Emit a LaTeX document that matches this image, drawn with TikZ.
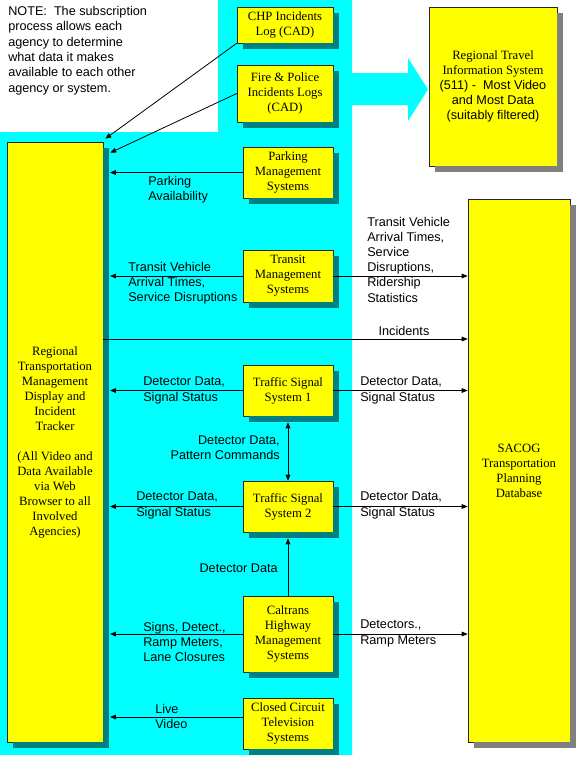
\documentclass[tikz,border=0pt]{standalone}
\usepackage{fontspec}
\setmainfont{Liberation Serif}
\setsansfont{Liberation Sans}
\usetikzlibrary{arrows.meta,calc}
\definecolor{PanelCyan}{RGB}{0,255,255}
\definecolor{BoxYellow}{RGB}{255,255,0}
\definecolor{ShadeTeal}{RGB}{0,128,128}
\definecolor{ShadeGray}{RGB}{128,128,128}
% shadow strips along the right and bottom edge of a box
\newcommand{\boxshade}[2]{%
    \fill[#2] ([shift={(0,6)}]#1.north east) rectangle ([shift={(6,6)}]#1.south east);
    \fill[#2] ([shift={(6,0)}]#1.south west) rectangle ([shift={(6,6)}]#1.south east);}
\begin{document}
\begin{tikzpicture}[
        x=0.75pt, y=-0.75pt,
        >={Triangle[length=4.5pt,width=3.5pt]},
        sysbox/.style={draw=black!85, fill=BoxYellow, align=center, inner sep=1pt,
                    font=\fontsize{9.5}{11.25}\selectfont},
        lab/.style={font=\sffamily\fontsize{9.5}{11.4}\selectfont, align=left, inner sep=0pt},
        flow/.style={->, line width=0.6pt},
        toleft/.style={flow, shorten >=5pt}
    ]
        \useasboundingbox (0,0) rectangle (576,768);
        % cyan panel with the big arrow towards the 511 system
        \fill[PanelCyan] (0,132) -- (218,132) -- (218,0) -- (352,0) -- (352,73) -- (408,73) -- (408,58)
            -- (428,89.5) -- (408,121) -- (408,105) -- (352,105) -- (352,755) -- (0,755) -- cycle;

        \node[sysbox, minimum width=72pt, minimum height=450pt] (rtm) at (55,442)
            {Regional\\Transportation\\Management\\Display and\\Incident\\Tracker\\[11.25pt](All Video and\\Data Available\\via Web\\Browser to all\\Involved\\Agencies)};
        \node[sysbox, minimum width=72pt, minimum height=27pt] (chp) at (285,25) {CHP Incidents\\Log (CAD)};
        \node[sysbox, minimum width=72pt, minimum height=42.75pt] (fire) at (285,93.5) {Fire \& Police\\Incidents Logs\\(CAD)};
        \node[sysbox, minimum width=67.5pt, minimum height=38.25pt] (park) at (288,172.5) {Parking\\Management\\Systems};
        \node[sysbox, minimum width=67.5pt, minimum height=39pt] (transit) at (288,276) {Transit\\Management\\Systems};
        \node[sysbox, minimum width=67.5pt, minimum height=38.25pt] (tss1) at (288,390.5) {Traffic Signal\\System 1};
        \node[sysbox, minimum width=67.5pt, minimum height=38.25pt] (tss2) at (288,506.5) {Traffic Signal\\System 2};
        \node[sysbox, minimum width=67.5pt, minimum height=57pt] (caltrans) at (288,634) {Caltrans\\Highway\\Management\\Systems};
        \node[sysbox, minimum width=67.5pt, minimum height=38.25pt] (cctv) at (288,723.5) {Closed Circuit\\Television\\Systems};
        \node[sysbox, minimum width=96pt, minimum height=119.25pt] (travel) at (493,86.5)
            {Regional Travel\\Information System\\\sffamily (511) -\ \ Most Video\\\sffamily and Most Data\\\sffamily (suitably filtered)};
        \node[sysbox, minimum width=76.5pt, minimum height=407.25pt] (sacog) at (519,470.5) {SACOG\\Transportation\\Planning\\Database};

        \boxshade{rtm}{ShadeTeal}
        \boxshade{chp}{ShadeTeal}
        \boxshade{fire}{ShadeTeal}
        \boxshade{park}{ShadeTeal}
        \boxshade{transit}{ShadeTeal}
        \boxshade{tss1}{ShadeTeal}
        \boxshade{tss2}{ShadeTeal}
        \boxshade{caltrans}{ShadeTeal}
        \boxshade{cctv}{ShadeTeal}
        \boxshade{travel}{ShadeGray}
        \boxshade{sacog}{ShadeGray}

        \coordinate (incid) at (200,339);
        \coordinate (livev) at (200,717);

        % flows into the regional display
        \draw[flow] (chp.south west) -- ($(rtm.north east)+(2,-3)$);
        \draw[flow] (fire.west) -- ($(rtm.north east)+(7,11)$);
        \draw[toleft] (park.west) -- (park.west -| rtm.east);
        \draw[toleft] (transit.west) -- (transit.west -| rtm.east);
        \draw[toleft] (tss1.west) -- (tss1.west -| rtm.east);
        \draw[toleft] (tss2.west) -- (tss2.west -| rtm.east);
        \draw[toleft] (caltrans.west) -- (caltrans.west -| rtm.east);
        \draw[toleft] (cctv.west |- livev) -- (rtm.east |- livev);
        % flows into SACOG
        \draw[flow] (transit.east) -- (transit.east -| sacog.west);
        \draw[flow] (rtm.east |- incid) -- (sacog.west |- incid);
        \draw[flow] (tss1.east) -- (tss1.east -| sacog.west);
        \draw[flow] (tss2.east) -- (tss2.east -| sacog.west);
        \draw[flow] (caltrans.east) -- (caltrans.east -| sacog.west);
        % between the field systems
        \draw[flow, <->, shorten <=4.5pt] (tss1.south) -- (tss2.north);
        \draw[flow, shorten >=4.5pt] (caltrans.north) -- (tss2.south);

        \node[lab, anchor=west, font=\sffamily\fontsize{9.5}{11.5}\selectfont] (note) at (8,50.5)
            {NOTE:\ \ The subscription\\process allows each\\agency to determine\\what data it makes\\available to each other\\agency or system.};
        \node[lab, anchor=west] (parklab) at (148,189.5) {Parking\\Availability};
        \node[lab, anchor=west] (tranlab) at (128,283) {Transit Vehicle\\Arrival Times,\\Service Disruptions};
        \node[lab, anchor=west] (tranout) at (367,259.5) {Transit Vehicle\\Arrival Times,\\Service\\Disruptions,\\Ridership\\Statistics};
        \node[lab] (incilab) at (404,331) {Incidents};
        \node[lab, anchor=west] (sig1lab) at (143,390.5) {Detector Data,\\Signal Status};
        \node[lab, anchor=west] (sig1out) at (360,390.5) {Detector Data,\\Signal Status};
        \node[lab, anchor=east, align=right] (patlab) at (280,447.5) {Detector Data,\\Pattern Commands};
        \node[lab, anchor=west] (sig2lab) at (136,505.5) {Detector Data,\\Signal Status};
        \node[lab, anchor=west] (sig2out) at (360,505.5) {Detector Data,\\Signal Status};
        \node[lab, anchor=east] (detlab) at (278,568) {Detector Data};
        \node[lab, anchor=west] (hwylab) at (143,642) {Signs, Detect.,\\Ramp Meters,\\Lane Closures};
        \node[lab, anchor=west] (hwyout) at (360,633.5) {Detectors.,\\Ramp Meters};
        \node[lab, anchor=west] (livelab) at (155,716.5) {Live\\Video};
    \end{tikzpicture}
\end{document}
